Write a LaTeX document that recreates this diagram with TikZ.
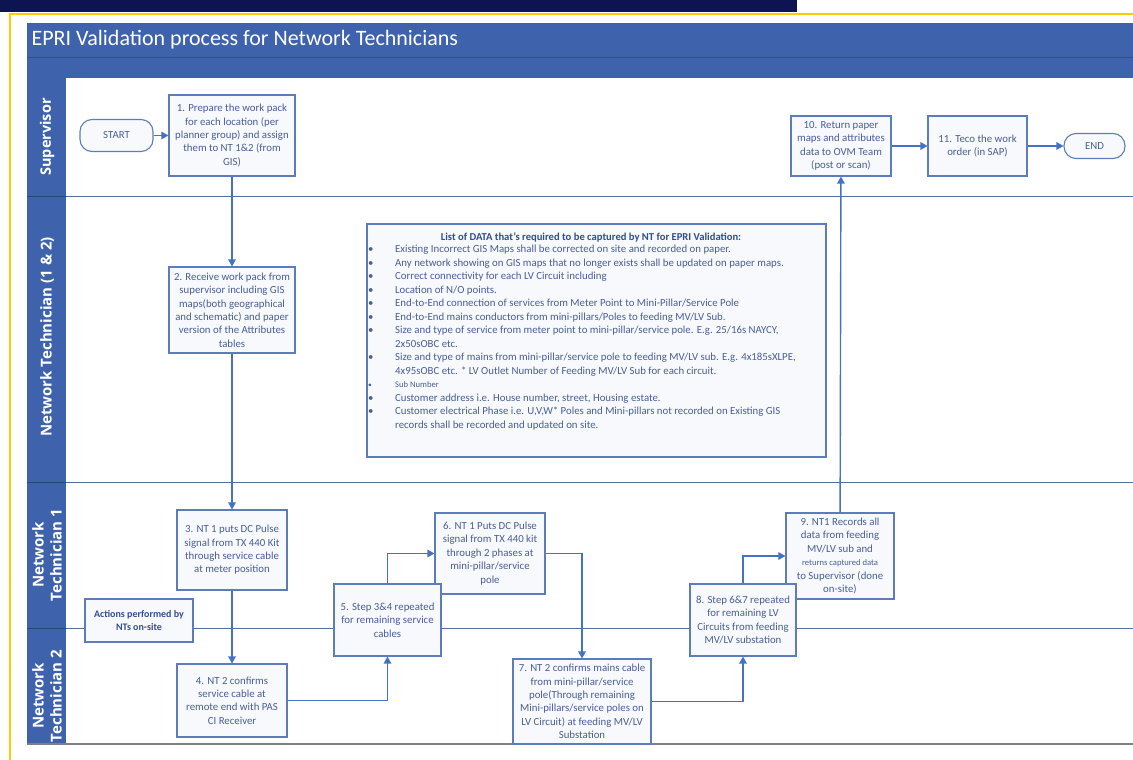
\documentclass[tikz,border=0pt]{standalone}
\usepackage{fontspec}
\setmainfont{Carlito}
\newfontfamily\lanefont{Open Sans}
\usepackage{tikz}
\usetikzlibrary{arrows.meta}

\definecolor{navybar}{RGB}{13,20,82}
\definecolor{frameyellow}{RGB}{255,204,0}
\definecolor{headblue}{RGB}{62,99,172}
\definecolor{lanerule}{RGB}{84,108,160}
\definecolor{boxline}{RGB}{92,124,190}
\definecolor{boxtext}{RGB}{72,94,152}
\definecolor{notetext}{RGB}{47,78,148}
\definecolor{flowblue}{RGB}{68,114,196}
\definecolor{boxfill}{RGB}{248,249,253}

\begin{document}
\begin{tikzpicture}[x=1pt, y=-1pt,
    stepbox/.style={draw=boxline, line width=1.1pt, fill=boxfill, text=boxtext,
        align=center, inner sep=1.5pt, font=\fontsize{10.8}{13.4}\selectfont},
    terminal/.style={stepbox, rounded corners=12pt},
    flow/.style={draw=flowblue, line width=1.4pt, -{Triangle[length=7pt,width=7.5pt]}},
    lanelabel/.style={text=white, rotate=90, align=center,
        font=\lanefont\bfseries\fontsize{15}{18}\selectfont},
    laneline/.style={draw=lanerule, line width=1pt}]
    \useasboundingbox (0,0) rectangle (1133,760);

    % Page frame
    \fill[navybar] (0,0) rectangle (797,12);
    \draw[frameyellow, line width=2.5pt] (10,760) -- (10,14) -- (1133,14);

    % Header
    \fill[headblue] (27,23) rectangle (1133,78);
    \draw[headblue!80!black, line width=0.4pt] (27,57) -- (1133,57);
    \node[anchor=west, text=white, font=\fontsize{22}{24}\selectfont] (title) at (28,40)
        {EPRI Validation process for Network Technicians};

    % Swim lanes
    \fill[headblue] (27,78) rectangle (66,744);
    \foreach \y in {196,482,628} {
        \draw[headblue!70!black, line width=0.8pt] (27,\y) -- (66,\y);
        \draw[laneline] (66,\y) -- (1133,\y);
    }
    \draw[gray, line width=1.2pt] (27,744) -- (1133,744);
    \node[lanelabel, font=\lanefont\bfseries\fontsize{14.5}{18}\selectfont] (laneSup) at (47,137) {Supervisor};
    \node[lanelabel] (laneBoth) at (47,337) {Network Technician (1 \& 2)};
    \node[lanelabel] (laneOne) at (47,555) {Network\\Technician 1};
    \node[lanelabel] (laneTwo) at (47,696) {Network\\Technician 2};

    % Supervisor lane
    \node[terminal, minimum width=73pt, minimum height=32pt] (start) at (116.5,135.5) {START};
    \node[stepbox, minimum width=126pt, minimum height=81pt] (step1) at (232,135.5)
        {1. Prepare the work pack\\for each location (per\\planner group) and assign\\them to NT 1\&2 (from\\GIS)};
    \node[stepbox, minimum width=100pt, minimum height=60pt] (step10) at (841,146)
        {10. Return paper\\maps and attributes\\data to OVM Team\\(post or scan)};
    \node[stepbox, minimum width=99pt, minimum height=60pt] (step11) at (977.5,146)
        {11. Teco the work\\order (in SAP)};
    \node[terminal, minimum width=61pt, minimum height=25pt] (finish) at (1094.5,146) {END};

    % Network Technician (1 & 2) lane
    \node[stepbox, minimum width=126pt, minimum height=86pt] (step2) at (232,310)
        {2. Receive work pack from\\supervisor including GIS\\maps(both geographical\\and schematic) and paper\\version of the Attributes\\tables};
    \node[draw=boxline, line width=1.1pt, fill=boxfill, minimum width=459pt, minimum height=233pt]
        (datalist) at (596.5,340.5) {};
    \node[text=notetext, font=\bfseries\fontsize{10.6}{12}\selectfont] (datatitle) at (591,237)
        {List of DATA that's required to be captured by NT for EPRI Validation:};
    \node[anchor=north west, inner sep=0pt, text=boxtext, font=\fontsize{10.8}{12.5}\selectfont]
        (datatext) at (368,243) {%
        \def\arraystretch{1.08}%
        \begin{tabular}{@{}p{27pt}@{}l@{}}
        \textbullet & Existing Incorrect GIS Maps shall be corrected on site and recorded on paper.\\
        \textbullet & Any network showing on GIS maps that no longer exists shall be updated on paper maps.\\
        \textbullet & Correct connectivity for each LV Circuit including\\
        \textbullet & Location of N/O points.\\
        \textbullet & End-to-End connection of services from Meter Point to Mini-Pillar/Service Pole\\
        \textbullet & End-to-End mains conductors from mini-pillars/Poles to feeding MV/LV Sub.\\
        \textbullet & Size and type of service from meter point to mini-pillar/service pole. E.g. 25/16s NAYCY,\\
                    & 2x50sOBC etc.\\
        \textbullet & Size and type of mains from mini-pillar/service pole to feeding MV/LV sub. E.g. 4x185sXLPE,\\
                    & 4x95sOBC etc. * LV Outlet Number of Feeding MV/LV Sub for each circuit.\\
        {\fontsize{7.5}{12.5}\selectfont\textbullet} & {\fontsize{8.6}{12.5}\selectfont Sub Number}\\
        \textbullet & Customer address i.e. House number, street, Housing estate.\\
        \textbullet & Customer electrical Phase i.e. U,V,W* Poles and Mini-pillars not recorded on Existing GIS\\
                    & records shall be recorded and updated on site.
        \end{tabular}};

    % Network Technician 1 lane
    \node[stepbox, minimum width=110pt, minimum height=80pt] (step3) at (232,550)
        {3. NT 1 puts DC Pulse\\signal from TX 440 Kit\\through service cable\\at meter position};
    \node[stepbox, minimum width=110pt, minimum height=81pt] (step6) at (490,553.5)
        {6. NT 1 Puts DC Pulse\\signal from TX 440 kit\\through 2 phases at\\mini-pillar/service\\pole};
    \node[stepbox, minimum width=108pt, minimum height=86pt] (step9) at (840,556)
        {9. NT1 Records all\\data from feeding\\MV/LV sub and\\{\fontsize{8.6}{13.4}\selectfont returns captured data}\\to Supervisor (done\\on-site)};

    % On the border of the two technician lanes
    \node[stepbox, text=notetext, font=\bfseries\fontsize{10}{13.5}\selectfont,
        minimum width=108pt, minimum height=43pt] (actions) at (139,620.5)
        {Actions performed by\\NTs on-site};
    \node[stepbox, minimum width=107pt, minimum height=72pt] (step5) at (387.5,620)
        {5. Step 3\&4 repeated\\for remaining service\\cables};
    \node[stepbox, minimum width=106pt, minimum height=72pt] (step8) at (743,620)
        {8. Step 6\&7 repeated\\for remaining LV\\Circuits from feeding\\MV/LV substation};

    % Network Technician 2 lane
    \node[stepbox, minimum width=110pt, minimum height=73pt] (step4) at (232,700.5)
        {4. NT 2 confirms\\service cable at\\remote end with PAS\\CI Receiver};
    \node[stepbox, minimum width=138pt, minimum height=85pt] (step7) at (582,701.5)
        {7. NT 2 confirms mains cable\\from mini-pillar/service\\pole(Through remaining\\Mini-pillars/service poles on\\LV Circuit) at feeding MV/LV\\Substation};

    % Flow
    \draw[flow] (start) -- (step1);
    \draw[flow] (step1) -- (step2);
    \draw[flow] (step2) -- (step3);
    \draw[flow] (step3) -- (step4);
    \draw[flow] (step4) -| (step5);
    \draw[flow] (step5) |- (step6);
    \draw[flow] (step6) -| (step7);
    \draw[flow] (step7) -| (step8);
    \draw[flow] (step8) |- (step9);
    \draw[flow] (step9) -- (step10);
    \draw[flow] (step10) -- (step11);
    \draw[flow] (step11) -- (finish);
\end{tikzpicture}
\end{document}
